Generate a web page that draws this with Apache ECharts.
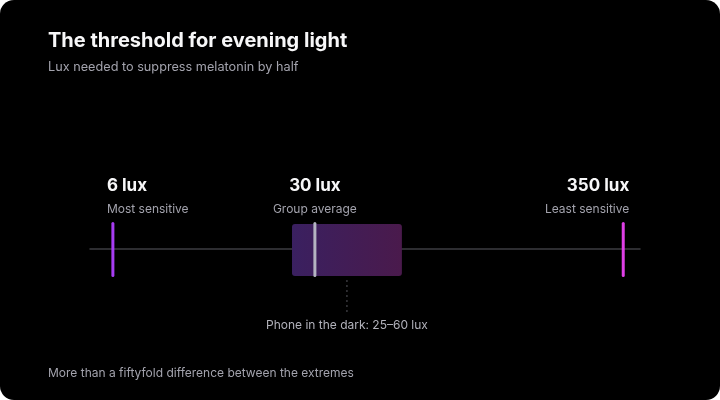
<!DOCTYPE html>
<html>
<head>
<meta charset="utf-8">
<script src="https://cdn.jsdelivr.net/npm/echarts@6/dist/echarts.min.js"></script>
<style>
html,body{margin:0;padding:0;background:#fff;}
#chart{width:720px;height:400px;background:#000;border-radius:14px;overflow:hidden;}
</style>
</head>
<body>
<div id="chart"></div>
<script>
// lux thresholds
var markerLux = [6, 30, 350];
var markerTitles = ['6 lux', '30 lux', '350 lux'];
var markerNotes = ['Most sensitive', 'Group average', 'Least sensitive'];
var phoneRange = [25, 60];
var phoneLabel = 'Phone in the dark: 25\u201360 lux';

var markerColors = ['#a73cf2', '#b4b4c2', '#df3fe6'];
var markerAlign = ['left', 'center', 'right'];
var markerShift = [-6, 0, 6];

var myChart = echarts.init(document.getElementById('chart'));

var option = {
    backgroundColor: 'transparent',
    textStyle: { fontFamily: 'Inter' },
    title: [
        {
            text: 'The threshold for evening light',
            left: 48, top: 31, padding: 0,
            textStyle: { color: '#f7f7f8', fontSize: 20, fontWeight: 700, fontFamily: 'Inter' }
        },
        {
            text: 'Lux needed to suppress melatonin by half',
            left: 48, top: 61, padding: 0,
            textStyle: { color: '#a3a3ad', fontSize: 12.7, fontWeight: 400, fontFamily: 'Inter' }
        },
        {
            text: 'More than a fiftyfold difference between the extremes',
            left: 48, top: 367, padding: 0,
            textStyle: { color: '#a3a3ad', fontSize: 12, fontWeight: 400, fontFamily: 'Inter' }
        }
    ],
    grid: { left: 90, right: 80, top: 222, bottom: 124 },
    xAxis: {
        type: 'log',
        min: 5,
        max: 400,
        axisLine: { show: true, onZero: true, lineStyle: { color: '#3c3c42', width: 1.5 } },
        axisTick: { show: false },
        axisLabel: { show: false },
        splitLine: { show: false }
    },
    yAxis: { type: 'value', min: -1, max: 1, show: false },
    series: [
        {
            // phone range box
            type: 'custom',
            clip: false,
            silent: true,
            data: [phoneRange],
            renderItem: function (params, api) {
                var p0 = api.coord([api.value(0), 0]);
                var p1 = api.coord([api.value(1), 0]);
                var mid = api.coord([Math.sqrt(api.value(0) * api.value(1)), 0]);
                var yc = p0[1];
                return {
                    type: 'group',
                    children: [
                        {
                            type: 'rect',
                            shape: { x: p0[0], y: yc - 25, width: p1[0] - p0[0], height: 52, r: 3 },
                            style: {
                                fill: new echarts.graphic.LinearGradient(0, 0, 1, 0, [
                                    { offset: 0, color: '#3a2060' },
                                    { offset: 1, color: '#4a1a4c' }
                                ])
                            }
                        },
                        {
                            type: 'line',
                            shape: { x1: mid[0], y1: yc + 31, x2: mid[0], y2: yc + 64 },
                            style: { stroke: '#55555c', lineWidth: 1, lineDash: [2, 3] }
                        },
                        {
                            type: 'text',
                            x: mid[0], y: yc + 76,
                            style: {
                                text: phoneLabel, fill: '#b2b2bb', fontSize: 12,
                                fontFamily: 'Inter', align: 'center', verticalAlign: 'middle'
                            }
                        }
                    ]
                };
            }
        },
        {
            // threshold markers
            type: 'custom',
            clip: false,
            silent: true,
            data: markerLux.map(function (v, i) { return [v, i]; }),
            renderItem: function (params, api) {
                var i = api.value(1);
                var p = api.coord([api.value(0), 0]);
                var x = p[0], yc = p[1];
                return {
                    type: 'group',
                    children: [
                        {
                            type: 'rect',
                            shape: { x: x - 1.5, y: yc - 27, width: 3, height: 55, r: 1.5 },
                            style: { fill: markerColors[i] }
                        },
                        {
                            type: 'text',
                            x: x + markerShift[i], y: yc - 63,
                            style: {
                                text: markerTitles[i], fill: '#f7f7f8', fontSize: 17, fontWeight: 700,
                                fontFamily: 'Inter', align: markerAlign[i], verticalAlign: 'middle'
                            }
                        },
                        {
                            type: 'text',
                            x: x + markerShift[i], y: yc - 40,
                            style: {
                                text: markerNotes[i], fill: '#a3a3ad', fontSize: 12,
                                fontFamily: 'Inter', align: markerAlign[i], verticalAlign: 'middle'
                            }
                        }
                    ]
                };
            }
        }
    ]
};

myChart.setOption(option);
</script>
</body>
</html>
